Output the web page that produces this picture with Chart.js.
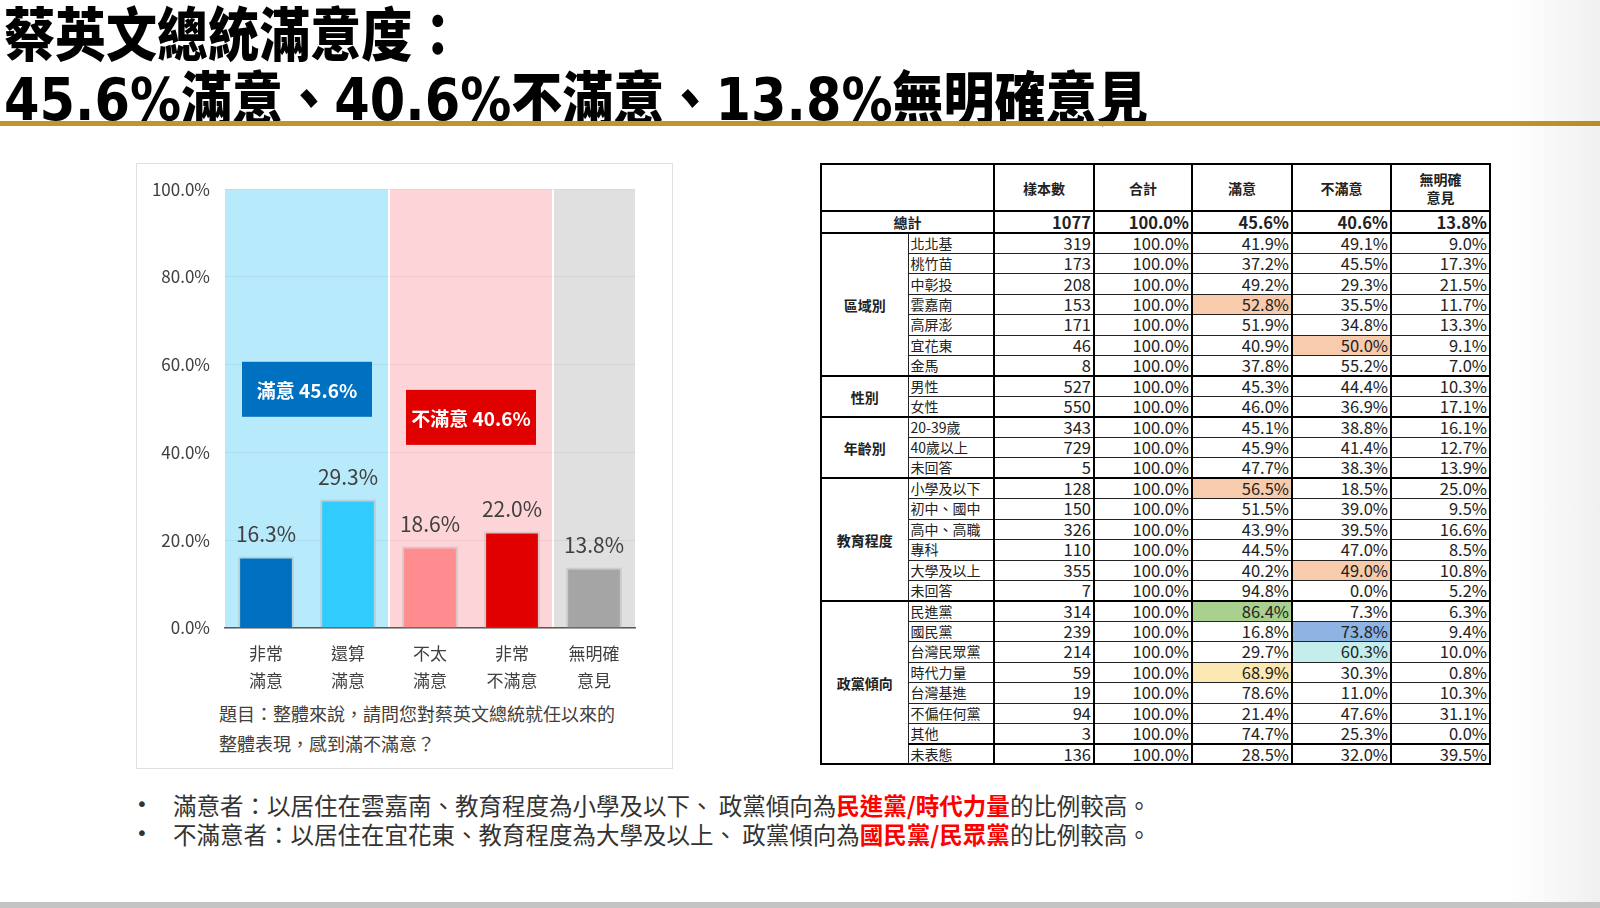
<!DOCTYPE html>
<html lang="zh-Hant">
<head>
<meta charset="utf-8">
<script src="https://cdn.jsdelivr.net/npm/chart.js@4.4.1/dist/chart.umd.min.js"></script>
<style>
html, body { margin: 0; padding: 0; }
body {
    width: 1600px; height: 908px; position: relative; overflow: hidden;
    background: #fff; font-family: "Noto Sans CJK TC", sans-serif; color: #222;
}
.title {
    position: absolute; left: 4px; white-space: nowrap;
    font-family: "Noto Sans CJK TC", sans-serif;
    font-weight: 900; font-size: 58px; line-height: 58px; color: #000;
    transform: scaleX(0.88); transform-origin: left top;
}
.title .n { font-family: "DejaVu Sans", sans-serif; font-weight: 700; }
.title .p { font-family: "Noto Sans CJK SC", sans-serif; }
#gold { position: absolute; left: 0; top: 121px; width: 1600px; height: 5px; background: #C09628; }
#shade { position: absolute; right: 0; top: 0; width: 90px; height: 908px;
    background: linear-gradient(to right, rgba(0,0,0,0), rgba(0,0,0,0.06)); }
#foot { position: absolute; left: 0; bottom: 0; width: 1600px; height: 6px; background: #c4c4c4; }
#chartBox { position: absolute; left: 136px; top: 163px; width: 535px; height: 604px; border: 1.5px solid #e0e0e0; }
#chartWrap { position: absolute; left: 137px; top: 164px; width: 536px; height: 532px; }
#caption { position: absolute; left: 219px; top: 698px; font-size: 18px; line-height: 30px; color: #404040; }
#tbl {
    position: absolute; left: 820px; top: 163px; width: 669px;
    border-collapse: collapse; table-layout: fixed; border: 2px solid #000;
}
#tbl td, #tbl th { padding: 0; border: 1px solid #222; vertical-align: middle; white-space: nowrap; }
#tbl th { font-size: 14px; line-height: 18px; font-weight: 700; border-bottom: 2px solid #000; border-left: 2px solid #000; }
#tbl tr.hd { height: 47px; }
#tbl tr.tot { height: 21px; }
#tbl tr.row { height: 20.45px; }
#tbl td.num { text-align: right; padding-right: 2px; font-family: "Liberation Sans Narrow", "Noto Sans CJK TC", sans-serif; font-size: 16.5px; line-height: 17px; border-left: 2px solid #000; }
#tbl td.lab { text-align: left; padding-left: 2px; font-size: 14px; line-height: 17px; }
#tbl td.grp { text-align: center; font-size: 14px; font-weight: 700; border-bottom: 2px solid #000; }
#tbl td.totlab { text-align: center; font-size: 14px; font-weight: 700; }
#tbl tr.tot td { border-bottom: 2px solid #000; }
#tbl tr.tot td.num { font-weight: 700; }
#tbl tr.gstart td { border-top: 2px solid #000; }
#tbl tr.sep td.lab, #tbl tr.sep td.num { border-top: 2px solid #000; }
.bullets { position: absolute; left: 136px; top: 791px; font-size: 23.5px; line-height: 29px; color: #333; white-space: nowrap; }
.bullets div { position: relative; padding-left: 37px; }
.bullets div::before { content: "•"; position: absolute; left: 0; top: -1px; font-family: "DejaVu Sans", sans-serif; font-size: 20px; }
.bullets b { color: #f00; }
</style>
</head>
<body>
<div class="title" style="top:2px">蔡英文總統滿意度：</div>
<div class="title" style="top:66px"><span class="n">45.6%</span>滿意<span class="p">、</span><span class="n">40.6%</span>不滿意<span class="p">、</span><span class="n">13.8%</span>無明確意見</div>
<div id="gold"></div>
<div id="shade"></div>
<div id="foot"></div>

<div id="chartBox"></div>
<div id="chartWrap"><canvas id="satChart" width="536" height="532"></canvas></div>
<div id="caption">題目：整體來說，請問您對蔡英文總統就任以來的<br>整體表現，感到滿不滿意？</div>

<table id="tbl"></table>

<div class="bullets">
    <div>滿意者：以居住在雲嘉南、教育程度為小學及以下、 政黨傾向為<b>民進黨/時代力量</b>的比例較高。</div>
    <div>不滿意者：以居住在宜花東、教育程度為大學及以上、 政黨傾向為<b>國民黨/民眾黨</b>的比例較高。</div>
</div>

<script>
// --- chart data ---
const categories = [['非常', '滿意'], ['還算', '滿意'], ['不太', '滿意'], ['非常', '不滿意'], ['無明確', '意見']];
const shares = [16.3, 29.3, 18.6, 22.0, 13.8];
const yTicks = [0, 20, 40, 60, 80, 100];

// groups of answers (bands behind bars)
const groupFirst = [0, 2, 4];
const groupLast = [1, 3, 4];
const groupLabels = ['滿意', '不滿意'];
const groupShares = [45.6, 40.6];

// --- table data ---
const colHeads = ['樣本數', '合計', '滿意', '不滿意', '無明確<br>意見'];
const groupNames = ['區域別', '性別', '年齡別', '教育程度', '政黨傾向'];
const groupSizes = [7, 2, 3, 6, 8];
const rowLabels = ['北北基', '桃竹苗', '中彰投', '雲嘉南', '高屏澎', '宜花東', '金馬',
    '男性', '女性',
    '20-39歲', '40歲以上', '未回答',
    '小學及以下', '初中、國中', '高中、高職', '專科', '大學及以上', '未回答',
    '民進黨', '國民黨', '台灣民眾黨', '時代力量', '台灣基進', '不偏任何黨', '其他', '未表態'];
const sampleN = [319, 173, 208, 153, 171, 46, 8, 527, 550, 343, 729, 5, 128, 150, 326, 110, 355, 7,
    314, 239, 214, 59, 19, 94, 3, 136];
const satisfied = [41.9, 37.2, 49.2, 52.8, 51.9, 40.9, 37.8, 45.3, 46.0, 45.1, 45.9, 47.7,
    56.5, 51.5, 43.9, 44.5, 40.2, 94.8, 86.4, 16.8, 29.7, 68.9, 78.6, 21.4, 74.7, 28.5];
const dissatisfied = [49.1, 45.5, 29.3, 35.5, 34.8, 50.0, 55.2, 44.4, 36.9, 38.8, 41.4, 38.3,
    18.5, 39.0, 39.5, 47.0, 49.0, 0.0, 7.3, 73.8, 60.3, 30.3, 11.0, 47.6, 25.3, 32.0];
const noOpinion = [9.0, 17.3, 21.5, 11.7, 13.3, 9.1, 7.0, 10.3, 17.1, 16.1, 12.7, 13.9,
    25.0, 9.5, 16.6, 8.5, 10.8, 5.2, 6.3, 9.4, 10.0, 0.8, 10.3, 31.1, 0.0, 39.5];
const totalN = 1077;
const totalShares = [100.0, 45.6, 40.6, 13.8];

// highlighted cells: [row, column (2 = 滿意, 3 = 不滿意), colour]
const highlights = [[3, 2, '#F8CBAD'], [5, 3, '#F8CBAD'], [12, 2, '#F8CBAD'], [16, 3, '#F8CBAD'],
    [18, 2, '#A9D08E'], [19, 3, '#8DB4E2'], [20, 3, '#C5EDEB'], [21, 2, '#FCE8B2']];

// --- styles ---
const barColors = ['#0070C0', '#33CCFF', '#FF8C8F', '#E00000', '#A5A5A5'];
const bandColors = ['#B7EAFA', '#FDD5D8', '#E0E0E0'];
const boxColors = ['#0070C0', '#E00000'];
const boxLevels = [54.4, 48.0];
const textGrey = '#404040';
const cjk = '"Noto Sans CJK TC", sans-serif';

// --- build table ---
function buildTable() {
    const colWidths = [87, 86, 100, 98, 100, 99, 99];
    let html = '<colgroup>' + colWidths.map(w => `<col style="width:${w}px">`).join('') + '</colgroup>';
    html += '<tr class="hd"><th colspan="2" style="border-left:none"></th>' +
        colHeads.map(h => `<th>${h}</th>`).join('') + '</tr>';
    html += `<tr class="tot"><td colspan="2" class="totlab">總計</td><td class="num">${totalN}</td>` +
        totalShares.map(v => `<td class="num">${v.toFixed(1)}%</td>`).join('') + '</tr>';

    const hl = {};
    highlights.forEach(([r, c, col]) => { hl[r + '_' + c] = col; });

    let r = 0;
    groupNames.forEach((g, gi) => {
        for (let k = 0; k < groupSizes[gi]; k++, r++) {
            let cls = 'row';
            if (k === 0) cls += ' gstart';
            if (rowLabels[r] === '未表態') cls += ' sep';
            html += `<tr class="${cls}">`;
            if (k === 0) html += `<td rowspan="${groupSizes[gi]}" class="grp">${g}</td>`;
            html += `<td class="lab" style="border-right:2px solid #000">${rowLabels[r]}</td>`;
            html += `<td class="num">${sampleN[r]}</td>`;
            const vals = [100.0, satisfied[r], dissatisfied[r], noOpinion[r]];
            vals.forEach((v, c) => {
                const bg = hl[r + '_' + (c + 1)];
                html += `<td class="num"${bg ? ` style="background:${bg}"` : ''}>${v.toFixed(1)}%</td>`;
            });
            html += '</tr>';
        }
    });
    document.getElementById('tbl').innerHTML = html;
}
buildTable();

// --- chart plugins ---
const bandPlugin = {
    id: 'bands',
    beforeDraw(chart) {
        const { ctx, scales: { x, y } } = chart;
        const half = (x.getPixelForValue(1) - x.getPixelForValue(0)) / 2;
        const top = y.getPixelForValue(100), bot = y.getPixelForValue(0);
        ctx.save();
        groupFirst.forEach((f, i) => {
            const l = x.getPixelForValue(f) - half;
            const r = x.getPixelForValue(groupLast[i]) + half;
            ctx.fillStyle = bandColors[i];
            ctx.fillRect(l, top, r - l, bot - top);
        });
        // white gaps between groups
        ctx.fillStyle = '#fff';
        groupFirst.slice(1).forEach(f => {
            const p = x.getPixelForValue(f) - half;
            ctx.fillRect(p - 1, top, 2, bot - top);
        });
        ctx.restore();
    }
};

const labelPlugin = {
    id: 'labels',
    afterDatasetsDraw(chart) {
        const { ctx, scales: { x, y } } = chart;
        ctx.save();
        ctx.textAlign = 'center';
        ctx.textBaseline = 'middle';
        ctx.fillStyle = textGrey;
        ctx.font = '21px ' + cjk;
        chart.getDatasetMeta(0).data.forEach((bar, i) => {
            ctx.fillText(shares[i].toFixed(1) + '%', bar.x, bar.y - 22);
        });

        // group summary boxes
        ctx.font = 'bold 19px ' + cjk;
        groupLabels.forEach((lab, i) => {
            const cx = (x.getPixelForValue(groupFirst[i]) + x.getPixelForValue(groupLast[i])) / 2;
            const cy = y.getPixelForValue(boxLevels[i]);
            ctx.fillStyle = boxColors[i];
            ctx.fillRect(cx - 65, cy - 27.5, 130, 55);
            ctx.fillStyle = '#fff';
            ctx.fillText(`${lab} ${groupShares[i].toFixed(1)}%`, cx, cy + 1);
        });
        ctx.restore();
    }
};

new Chart(document.getElementById('satChart'), {
    type: 'bar',
    data: {
        labels: categories,
        datasets: [{
            data: shares,
            backgroundColor: barColors,
            borderColor: 'rgba(185,185,185,0.55)',
            borderWidth: 2,
            borderSkipped: 'bottom',
            barPercentage: 0.68,
            categoryPercentage: 1
        }]
    },
    options: {
        responsive: false,
        animation: false,
        devicePixelRatio: 1,
        layout: { padding: { top: 23, right: 38, left: 0, bottom: 0 } },
        plugins: { legend: { display: false }, tooltip: { enabled: false } },
        scales: {
            x: {
                grid: { display: false },
                border: { color: '#595959', width: 1.5 },
                ticks: { color: textGrey, font: { family: cjk, size: 17, lineHeight: 1.6 }, padding: 4, maxRotation: 0 },
                afterFit: s => { s.height = 68; }
            },
            y: {
                min: 0, max: 100,
                grid: { color: 'rgba(0,0,0,0.06)', drawTicks: false },
                border: { display: false },
                ticks: {
                    color: textGrey, font: { family: cjk, size: 17 }, padding: 15,
                    callback: v => v.toFixed(1) + '%'
                },
                afterBuildTicks: s => { s.ticks = yTicks.map(v => ({ value: v })); },
                afterFit: s => { s.width = 88; }
            }
        }
    },
    plugins: [bandPlugin, labelPlugin]
});
</script>
</body>
</html>
